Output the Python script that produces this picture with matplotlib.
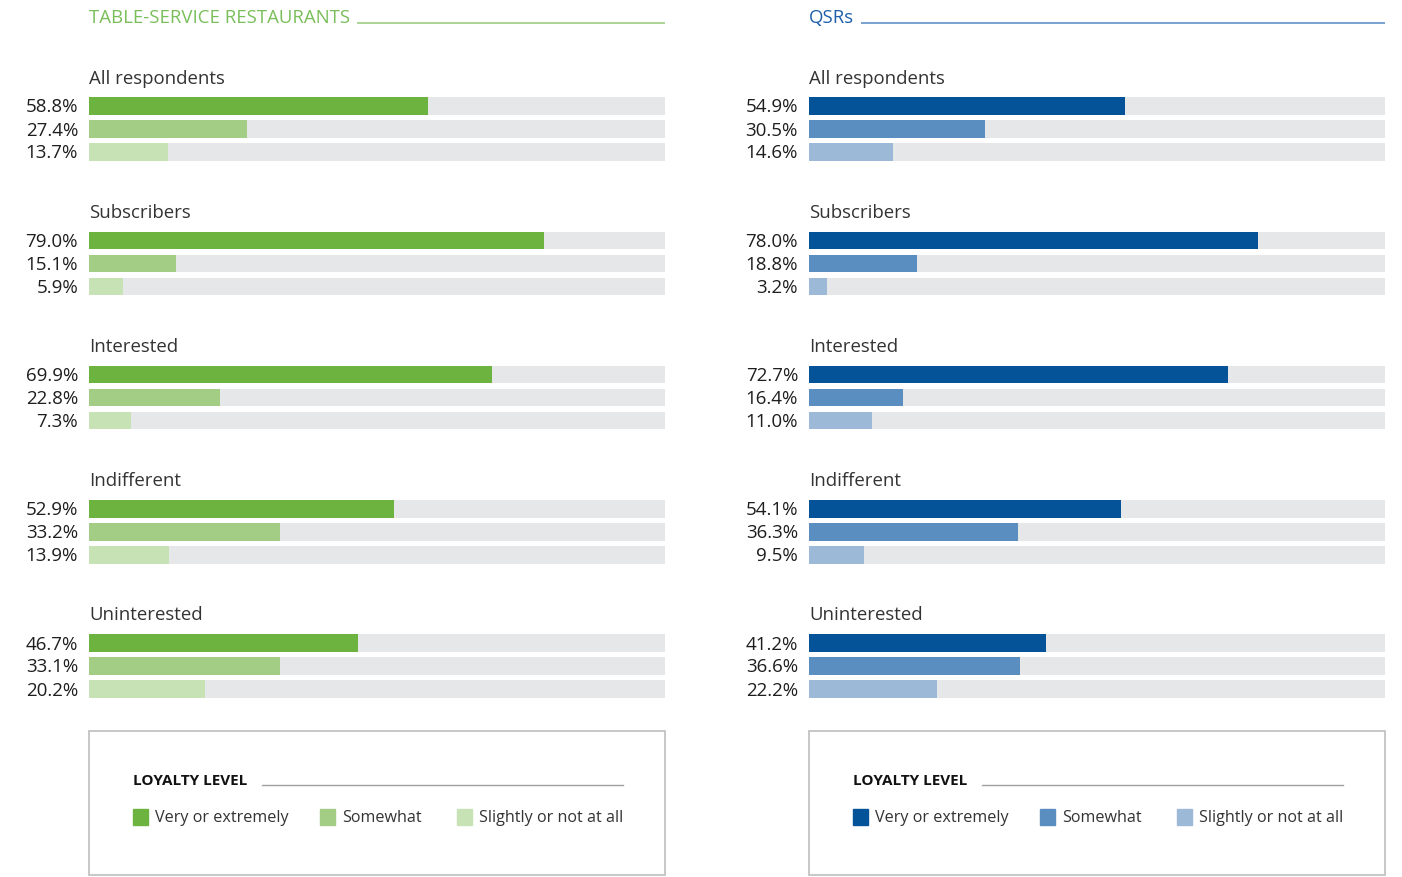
import matplotlib
matplotlib.use("Agg")
import matplotlib.pyplot as plt
from matplotlib.patches import Rectangle

plt.rcParams['font.family'] = ['Open Sans', 'DejaVu Sans']

groups = ["All respondents", "Subscribers", "Interested", "Indifferent", "Uninterested"]
levels = ["Very or extremely", "Somewhat", "Slightly or not at all"]

tsr_values = [
    [58.8, 27.4, 13.7],
    [79.0, 15.1, 5.9],
    [69.9, 22.8, 7.3],
    [52.9, 33.2, 13.9],
    [46.7, 33.1, 20.2],
]
qsr_values = [
    [54.9, 30.5, 14.6],
    [78.0, 18.8, 3.2],
    [72.7, 16.4, 11.0],
    [54.1, 36.3, 9.5],
    [41.2, 36.6, 22.2],
]

panels = [
    dict(title="TABLE-SERVICE RESTAURANTS", values=tsr_values, left=89,
         title_color="#79BE5A", rule_color="#A6D18C",
         colors=["#6DB33F", "#A3CD85", "#C7E2B5"]),
    dict(title="QSRs", values=qsr_values, left=809,
         title_color="#1C5EA8", rule_color="#6D9CCB",
         colors=["#045298", "#5B8EC0", "#9CBAD8"]),
]

W, H = 1402, 877
TRACK = "#E6E7E9"
TEXT = "#1E1E1E"
PX = 5.76  # pixels per percentage point on the bar track

fig = plt.figure(figsize=(W / 100, H / 100), dpi=100)
fig.patch.set_facecolor("white")

group_step = 134.25
first_row = 106
row_step = 23
bar_h = 17.5


def px(x_px, left):
    return (x_px - left) / PX


for p in panels:
    ax = fig.add_axes([p["left"] / W, 0, 576 / W, 1])
    ax.set_xlim(0, 100)
    ax.set_ylim(H, 0)
    ax.axis("off")

    # panel header with rule
    t = ax.text(0, 18, p["title"], color=p["title_color"], fontsize=13.4,
                va="center", ha="left")
    fig.canvas.draw()
    bb = t.get_window_extent()
    x_end = ax.transData.inverted().transform((bb.x1, 0))[0]
    ax.plot([x_end + 7 / PX, 100], [23, 23], color=p["rule_color"], lw=1.3,
            solid_capstyle="butt")

    for g, (name, vals) in enumerate(zip(groups, p["values"])):
        y0 = first_row + g * group_step
        ax.text(0, y0 - 27.5, name, color="#333333", fontsize=13.4,
                va="center", ha="left")
        ys = [y0 + r * row_step for r in range(3)]
        ax.barh(ys, [100] * 3, height=bar_h, color=TRACK, left=0)
        ax.barh(ys, vals, height=bar_h, color=p["colors"], left=0)
        for y, v in zip(ys, vals):
            ax.text(-1.9, y + 1.5, f"{v:.1f}%", color=TEXT, fontsize=13.5,
                    va="center", ha="right")

    # legend box
    ax.add_patch(Rectangle((0, 731), 100, 144, fill=False, edgecolor="#BDBDBD",
                           lw=1.2, clip_on=False))
    lx = px(133, 89)
    ax.text(lx, 781, "LOYALTY LEVEL", color="#111111", fontsize=11,
            fontweight="bold", va="center", ha="left")
    ax.plot([px(262, 89), px(623, 89)], [785, 785], color="#A0A0A0", lw=1)
    sq_x = [133, 320, 457]
    for c, lab, sx in zip(p["colors"], levels, sq_x):
        ax.add_patch(Rectangle((px(sx, 89), 809), 15 / PX, 16, color=c,
                               clip_on=False))
        ax.text(px(sx + 22, 89), 818.5, lab, color="#333333", fontsize=11.6,
                va="center", ha="left")

fig.savefig("out.png", dpi=100)
